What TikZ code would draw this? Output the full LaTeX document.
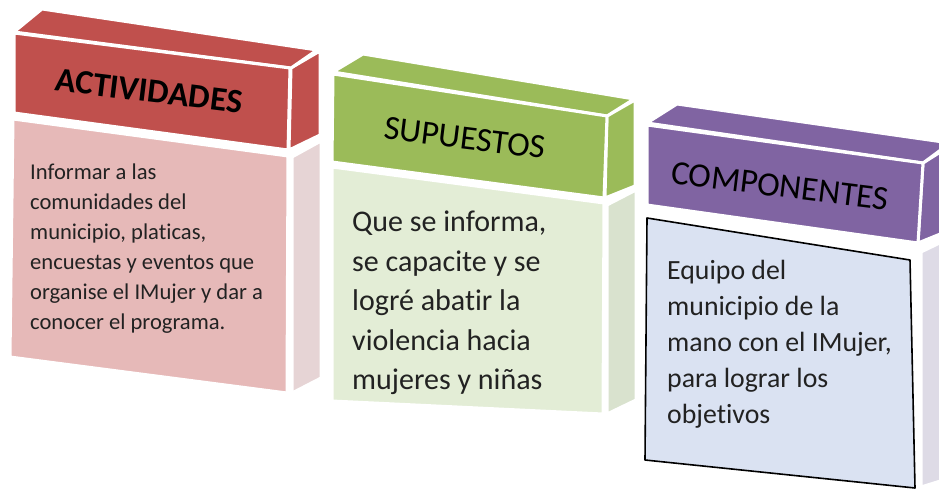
\documentclass[tikz,border=0pt]{standalone}
\usepackage{fontspec}
\setmainfont{Carlito}[Ligatures={NoCommon,NoContextual}, RawFeature={-liga;-clig;-dlig}]
\definecolor{redH}{HTML}{C0504D}
\definecolor{redB}{HTML}{E6B9B8}
\definecolor{redS}{HTML}{E6D4D5}
\definecolor{grnH}{HTML}{9BBB59}
\definecolor{grnB}{HTML}{E3EDD6}
\definecolor{grnS}{HTML}{D9E2CE}
\definecolor{purH}{HTML}{8064A2}
\definecolor{purB}{HTML}{DAE2F2}
\definecolor{purS}{HTML}{DEDBE6}
\definecolor{txt}{HTML}{222222}
\begin{document}
\begin{tikzpicture}[x=1pt,y=-1pt,
  face/.style={draw=white, line width=3pt, line join=round},
  headtxt/.style={rotate=-7, inner sep=0pt, text=black, font=\fontsize{34}{40}\selectfont},
  bodytxt/.style={anchor=north west, inner sep=0pt, align=left, text=txt}]
\useasboundingbox (0,0) rectangle (939,492);
\fill[white] (0,0) rectangle (939,492);
\clip (0,0) rectangle (939,492);

% ---------- Box 1: ACTIVIDADES ----------
\fill[redS, face] (292,157) -- (321,141) -- (321,378) -- (292,393) -- cycle;
\fill[redB, face] (13,119) -- (288,156) -- (287,393) -- (10,357) -- cycle;
\fill[redH, face] (291,68) -- (320,51) -- (320,135) -- (289,150) -- cycle;
\fill[redH, face] (14,32) -- (42,9) -- (317,50) -- (291,68) -- cycle;
\fill[redH, face] (14,33) -- (290,68) -- (288,150) -- (14,113) -- cycle;
\node[headtxt, font=\fontsize{34}{40}\selectfont\bfseries] (act) at (149,91) {ACTIVIDADES};
\node[bodytxt, font=\fontsize{22.6}{30}\selectfont] (actbody) at (30,164)
  {Informar a las\\comunidades del\\municipio, platicas,\\encuestas y eventos que\\organise el IMujer y dar a\\conocer el programa.};

% ---------- Box 2: SUPUESTOS ----------
\fill[grnS, face] (607,205) -- (636,190) -- (636,400) -- (607,414) -- cycle;
\fill[grnB, face] (332,167) -- (604,203) -- (603,414) -- (332,401) -- cycle;
\fill[grnH, face] (607,116) -- (635,100) -- (635,186) -- (605,198) -- cycle;
\fill[grnH, face] (333,72) -- (363,54) -- (634,99) -- (607,116) -- cycle;
\fill[grnH, face] (333,74) -- (607,116) -- (604,198) -- (332,162) -- cycle;
\node[headtxt] (sup) at (465,138) {SUPUESTOS};
\node[bodytxt, font=\fontsize{30}{39.5}\selectfont] (supbody) at (352,211)
  {Que se informa,\\se capacite y se\\logré abatir la\\violencia hacia\\mujeres y niñas};

% ---------- Box 3: COMPONENTES ----------
\fill[purS, face] (921,252) -- (950,238) -- (950,478) -- (921,487) -- cycle;
\fill[purB] (647,218) -- (910,260) -- (915,488) -- (645,460) -- cycle;
\draw[black, line width=1.6pt, line join=round] (647,218) -- (910,260) -- (915,488) -- (645,460) -- cycle;
\fill[purH, face] (923,163) -- (950,146) -- (950,230) -- (918,243) -- cycle;
\fill[purH, face] (647,123) -- (677,104) -- (950,143) -- (923,163) -- cycle;
\fill[purH, face] (647,125) -- (923,163) -- (918,243) -- (647,205) -- cycle;
\node[headtxt] (comp) at (780,186) {COMPONENTES};
\node[bodytxt, font=\fontsize{27.8}{36}\selectfont] (compbody) at (667,260)
  {Equipo del\\municipio de la\\mano con el IMujer,\\para lograr los\\objetivos};
\end{tikzpicture}
\end{document}
